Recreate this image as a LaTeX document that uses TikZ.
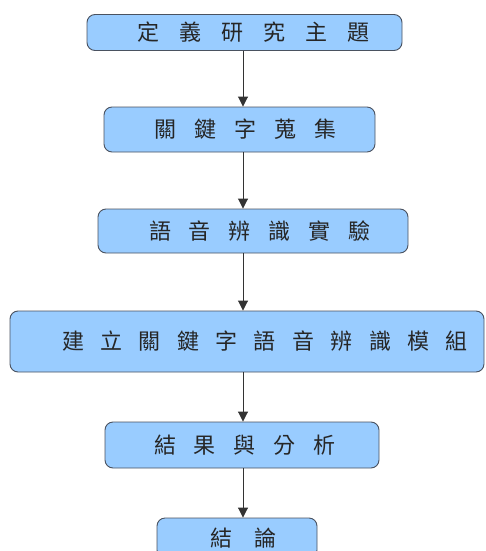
\documentclass[tikz,border=0pt]{standalone}
\usepackage{fontspec}
\newfontfamily\cjk{Noto Sans CJK TC}
\usetikzlibrary{arrows.meta, positioning}
\definecolor{boxblue}{HTML}{99CCFF}
\definecolor{boxline}{HTML}{4A5260}
\newcommand\gp{\hspace{18pt}}
\tikzset{
    stepbox/.style n args={2}{
        draw=boxline, fill=boxblue, rounded corners=8pt, line width=0.9pt,
        minimum width=#1, minimum height=#2, inner sep=0pt,
        font=\cjk\fontsize{22pt}{26pt}\selectfont, text=black!85
    },
    flow/.style={draw=black!80, line width=0.9pt, -{Triangle[length=10pt,width=10pt]}}
}
\begin{document}
\begin{tikzpicture}[x=1pt, y=-1pt]
    \useasboundingbox (0,0) rectangle (486,551);
    \clip (0,0) rectangle (486,551);
    \coordinate (c1) at (244.5, 32.5);
    \coordinate (c2) at (239.5, 129.5);
    \coordinate (c3) at (253.0, 231.0);
    \coordinate (c4) at (247.0, 341.5);
    \coordinate (c5) at (242.0, 445.0);
    \coordinate (c6) at (237.0, 538.0);
    \coordinate (spine) at (243.0, 0);
    \node[stepbox={315pt}{36pt}] (topic) at (c1) {\hspace{18pt}定\hspace{20pt}義\hspace{20pt}研\hspace{20pt}究\hspace{20pt}主\hspace{20pt}題};
    \node[stepbox={271pt}{45pt}] (collect) at (c2) {\hspace{12pt}關\gp 鍵\gp 字\gp 蒐\gp 集};
    \node[stepbox={310pt}{44pt}] (exper) at (c3) {\hspace{14pt}語\gp 音\gp 辨\gp 識\gp 實\gp 驗};
    \node[stepbox={474pt}{61pt}] (model) at (c4) {\hspace{36pt}建\hspace{16.4pt}立\hspace{16.4pt}關\hspace{16.4pt}鍵\hspace{16.4pt}字\hspace{16.4pt}語\hspace{16.4pt}音\hspace{16.4pt}辨\hspace{16.4pt}識\hspace{16.4pt}模\hspace{16.4pt}組};
    \node[stepbox={274pt}{46pt}] (result) at (c5) {\hspace{6pt}結\gp 果\gp 與\gp 分\gp 析};
    \node[stepbox={160pt}{40pt}] (concl) at (c6) {\hspace{13pt}結\hspace{23pt}論};
    \draw[flow] (topic.south -| spine) -- (collect.north -| spine);
    \draw[flow] (collect.south -| spine) -- (exper.north -| spine);
    \draw[flow] (exper.south -| spine) -- (model.north -| spine);
    \draw[flow] (model.south -| spine) -- (result.north -| spine);
    \draw[flow] (result.south -| spine) -- (concl.north -| spine);
\end{tikzpicture}
\end{document}
